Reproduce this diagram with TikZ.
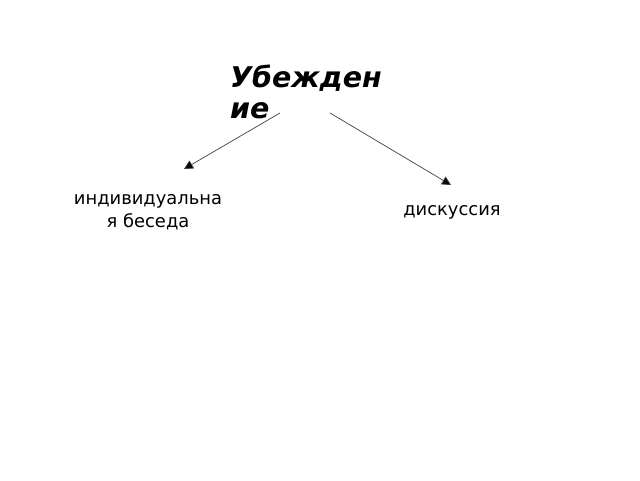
\documentclass[tikz,border=0pt]{standalone}
\usepackage{fontspec}
\setmainfont{DejaVu Sans}
\usetikzlibrary{arrows.meta}
\begin{document}
\begin{tikzpicture}[
  x=1pt, y=-1pt,
  arr/.style={draw=black!75, line width=0.7pt, -{Triangle[length=9pt,width=9pt,fill=black]}},
  lbl/.style={align=center, inner sep=0pt, font=\fontsize{17.9}{23}\selectfont}]
\useasboundingbox (0,0) rectangle (640,480);
\node [anchor=north west, align=left, inner sep=0pt,
  font=\fontsize{28.5}{31}\selectfont\bfseries\itshape] (t) at (230,65) {Убежден\\ие};
\node [lbl] (a) at (148,212) {индивидуальна\\я беседа};
\node [lbl] (b) at (452,212) {дискуссия};
\coordinate (t1) at (280,113);
\coordinate (t2) at (330,113);
\coordinate (a1) at (184,169);
\coordinate (b1) at (451,185);
\draw [arr] (t1) -- (a1);
\draw [arr] (t2) -- (b1);
\end{tikzpicture}
\end{document}
